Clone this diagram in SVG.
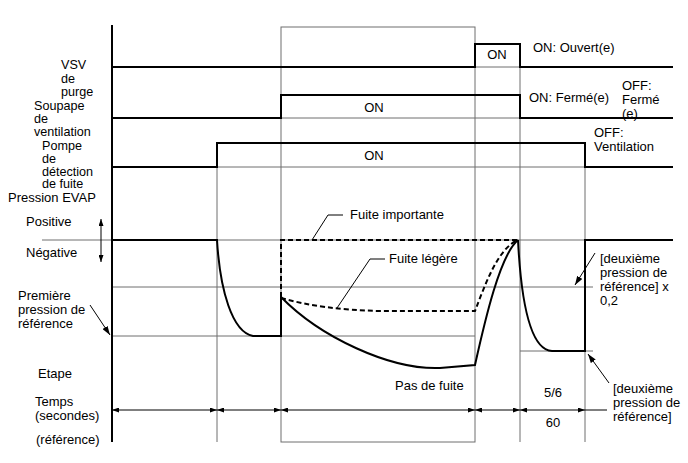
<svg xmlns="http://www.w3.org/2000/svg" width="688" height="463" viewBox="0 0 688 463">
<defs>
<style>
text{font-family:"Liberation Sans",Arial,sans-serif;font-size:13px;fill:#000}
.sm{font-size:12.6px}
.g{stroke:#6e6e6e;stroke-width:1;fill:none}
.s{stroke:#000;stroke-width:2;fill:none}
.d{stroke:#000;stroke-width:2;fill:none;stroke-dasharray:5 3}
.t{stroke:#000;stroke-width:1;fill:none}
.m{text-anchor:middle}
</style>
<marker id="ah" viewBox="0 0 7 5" refX="7" refY="2.5" markerWidth="7" markerHeight="5" markerUnits="userSpaceOnUse" orient="auto-start-reverse"><path d="M0,0 L7,2.5 L0,5 z" fill="#000"/></marker>
<marker id="al" viewBox="0 0 9 6" refX="9" refY="3" markerWidth="9" markerHeight="6" markerUnits="userSpaceOnUse" orient="auto-start-reverse"><path d="M0,0 L9,3 L0,6 z" fill="#000"/></marker>
</defs>
<rect width="688" height="463" fill="#fff"/>

<g id="grid">
<rect x="281" y="27" width="194" height="415" class="g"/>
<line x1="217" y1="143" x2="217" y2="442" class="g"/>
<line x1="520" y1="44" x2="520" y2="442" class="g"/>
<line x1="585" y1="143" x2="585" y2="442" class="g"/>
<line x1="475" y1="67" x2="520" y2="67" class="g"/>
<line x1="281" y1="118" x2="520" y2="118" class="g"/>
<line x1="217" y1="167" x2="585" y2="167" class="g"/>
<line x1="42" y1="240" x2="673" y2="240" class="g"/>
<line x1="112" y1="287" x2="593" y2="287" class="g"/>
<line x1="112" y1="336" x2="475" y2="336" class="g"/>
<line x1="520" y1="351" x2="593" y2="351" class="g"/>
</g>

<g id="axis">
<line x1="112" y1="25" x2="112" y2="442" class="s"/>
</g>

<g id="vsv">
<path d="M112,67 H475 V44 H520 V67 H673" class="s"/>
<text x="61" y="69" class="sm">VSV</text>
<text x="61" y="82.5" class="sm">de</text>
<text x="61" y="95.5" class="sm">purge</text>
<text x="497" y="59" class="m">ON</text>
<text x="533" y="52">ON: Ouvert(e)</text>
</g>

<g id="soupape">
<path d="M112,118 H281 V95 H520 V118 H673" class="s"/>
<text x="34" y="109.5" class="sm">Soupape</text>
<text x="34" y="123" class="sm">de</text>
<text x="34" y="136" class="sm">ventilation</text>
<text x="374" y="112" class="m">ON</text>
<text x="529" y="102">ON: Fermé(e)</text>
<text x="622" y="90">OFF:</text>
<text x="622" y="104">Fermé</text>
<text x="622" y="118">(e)</text>
</g>

<g id="pompe">
<path d="M112,167 H217 V143 H585 V167 H673" class="s"/>
<text x="42" y="149.5" class="sm">Pompe</text>
<text x="42" y="162.5" class="sm">de</text>
<text x="42" y="175.5" class="sm">détection</text>
<text x="42" y="188" class="sm">de fuite</text>
<text x="374" y="160" class="m">ON</text>
<text x="594" y="137">OFF:</text>
<text x="594" y="151">Ventilation</text>
</g>

<g id="pression">
<text x="8" y="201.5">Pression EVAP</text>
<text x="26" y="226">Positive</text>
<text x="26" y="257">Négative</text>
<line x1="101" y1="219" x2="101" y2="262" class="t" marker-start="url(#ah)" marker-end="url(#ah)"/>
<path d="M112,240 H217 C220,290 232,332 253,336 H281 V297" class="s"/>
<path d="M281,297 V240 H518" class="d"/>
<path d="M281,297 C320,337 390,370 440,368 L475,365 C485,320 500,255 518,240" class="s"/>
<path d="M281,298 C310,306 340,310 380,311 L475,311 C485,285 498,248 518,240" class="d"/>
<path d="M518,240 C521,300 530,350 552,351 H585 V240 H673" class="s"/>
<path d="M312,240 L328,215 H343" class="t"/>
<text x="350" y="219">Fuite importante</text>
<path d="M337,308 L370,259 H385" class="t"/>
<text x="389" y="263">Fuite légère</text>
<text x="395" y="390">Pas de fuite</text>
<text x="18" y="300">Première</text>
<text x="18" y="314">pression de</text>
<text x="18" y="328">référence</text>
<line x1="90" y1="305" x2="110" y2="335" class="t" marker-end="url(#al)"/>
<text x="600" y="263">[deuxième</text>
<text x="600" y="277">pression de</text>
<text x="600" y="291">référence] x</text>
<text x="600" y="305">0,2</text>
<line x1="595" y1="253" x2="575" y2="285" class="t" marker-end="url(#al)"/>
<text x="613" y="393">[deuxième</text>
<text x="613" y="407">pression de</text>
<text x="613" y="421">référence]</text>
<line x1="609" y1="383" x2="588" y2="354" class="t" marker-end="url(#al)"/>
</g>

<g id="temps">
<text x="38" y="378">Etape</text>
<text x="35" y="406">Temps</text>
<text x="35" y="420">(secondes)</text>
<text x="36" y="444">(référence)</text>
<line x1="112" y1="410" x2="217" y2="410" class="t" marker-start="url(#ah)" marker-end="url(#ah)"/>
<line x1="217" y1="410" x2="281" y2="410" class="t" marker-start="url(#ah)" marker-end="url(#ah)"/>
<line x1="281" y1="410" x2="475" y2="410" class="t" marker-start="url(#ah)" marker-end="url(#ah)"/>
<line x1="475" y1="410" x2="520" y2="410" class="t" marker-start="url(#ah)" marker-end="url(#ah)"/>
<line x1="520" y1="410" x2="585" y2="410" class="t" marker-start="url(#ah)" marker-end="url(#ah)"/>
<line x1="585" y1="410" x2="607" y2="410" class="t"/>
<text x="553" y="397" class="m">5/6</text>
<text x="553" y="427" class="m">60</text>
</g>
</svg>
